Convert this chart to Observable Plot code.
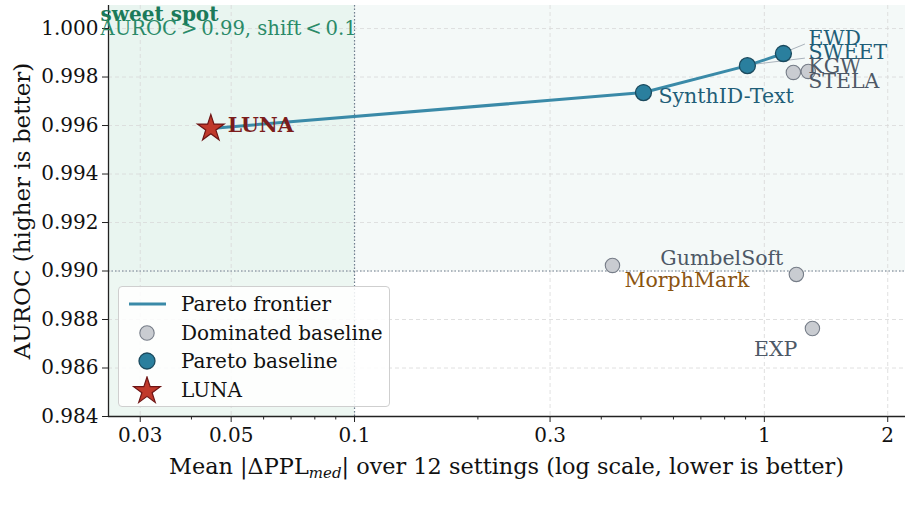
<!DOCTYPE html>
<html>
<head>
<meta charset="utf-8">
<script src="https://cdn.jsdelivr.net/npm/d3@7"></script>
<script src="https://cdn.jsdelivr.net/npm/@observablehq/plot@0.6"></script>
<style>
  html, body { margin: 0; padding: 0; background: #fff; }
  #wrap { position: relative; width: 913px; height: 510px; font-family: "DejaVu Serif", serif; }
  #legend { position: absolute; left: 118px; top: 286px; width: 272px; height: 121px;
    border: 1px solid #cfcfcf; border-radius: 4px; background: rgba(255,255,255,0.85);
    box-sizing: border-box; font-size: 20px; color: #111; }
  #legend .row { position: absolute; left: 0; height: 28px; display: flex; align-items: center; }
  #legend .row svg { width: 62px; height: 28px; }
</style>
</head>
<body>
<div id="wrap"></div>
<script>
// ---- data ----
const methods   = ["LUNA", "SynthID-Text", "SWEET", "EWD", "KGW", "STELA", "MorphMark", "GumbelSoft", "EXP"];
const pplShift  = [0.0446, 0.507, 0.909, 1.113, 1.177, 1.28, 0.426, 1.197, 1.31];
const auroc     = [0.99588, 0.99736, 0.99847, 0.99897, 0.99819, 0.99823, 0.99023, 0.98986, 0.98763];
const group     = ["luna", "pareto", "pareto", "pareto", "dominated", "dominated", "dominated", "dominated", "dominated"];
const frontier  = ["LUNA", "SynthID-Text", "SWEET", "EWD"];
const xMajor    = [0.03, 0.05, 0.1, 0.3, 1, 2];
const xMinor    = [0.04, 0.06, 0.07, 0.08, 0.09, 0.2, 0.4, 0.5, 0.6, 0.7, 0.8, 0.9];
const yTicks    = [0.984, 0.986, 0.988, 0.990, 0.992, 0.994, 0.996, 0.998, 1.000];
const sweetAuroc = 0.99;
const sweetShift = 0.1;

const rows = methods.map((m, i) => ({name: m, x: pplShift[i], y: auroc[i], g: group[i]}));
const frontierRows = frontier.map(n => rows.find(r => r.name === n));

// label styling (offsets in px, colours)
const labelStyle = {
  "LUNA":        {dx: 17, dy: -3, anchor: "start", fill: "#7b1c1c", weight: "bold"},
  "SynthID-Text":{dx: 15, dy: 4,  anchor: "start", fill: "#1f5e78"},
  "SWEET":       {dx: 61, dy: -13, anchor: "start", fill: "#1f5e78", leader: true},
  "EWD":         {dx: 25, dy: -15, anchor: "start", fill: "#1f5e78", leader: true},
  "KGW":         {dx: 15, dy: -6, anchor: "start", fill: "#4d5866", leader: true},
  "STELA":       {dx: 0,  dy: 10, anchor: "start", fill: "#4d5866"},
  "MorphMark":   {dx: 12, dy: 15, anchor: "start", fill: "#8a5410"},
  "GumbelSoft":  {dx: -13, dy: -16, anchor: "end", fill: "#4d5866"},
  "EXP":         {dx: -15, dy: 21, anchor: "end", fill: "#4d5866"}
};

const xDomain = [0.0251, 2.21];
const yDomain = [0.984, 1.00095];
const font = "DejaVu Serif";
const fs = 20;

const labelMarks = rows.map(r => {
  const s = labelStyle[r.name];
  return Plot.text([r], {x: "x", y: "y", text: "name", dx: s.dx, dy: s.dy, textAnchor: s.anchor,
    fill: s.fill, fontWeight: s.weight || "normal", fontSize: 20.5, fontFamily: font});
});

const gridDash = "4,3";
const chart = Plot.plot({
  width: 913,
  height: 510,
  marginLeft: 108,
  marginRight: 8,
  marginTop: 5,
  marginBottom: 94,
  style: {fontFamily: font, fontSize: fs + "px", color: "#111", background: "transparent", overflow: "visible"},
  x: {type: "log", domain: xDomain, label: null},
  y: {domain: yDomain, label: null},
  marks: [
    // sweet spot bands
    Plot.rect([{}], {x1: xDomain[0], x2: sweetShift, y1: yDomain[0], y2: sweetAuroc, fill: "#edf7f2"}),
    Plot.rect([{}], {x1: xDomain[0], x2: sweetShift, y1: sweetAuroc, y2: yDomain[1], fill: "#e9f5f0"}),
    Plot.rect([{}], {x1: sweetShift, x2: xDomain[1], y1: sweetAuroc, y2: yDomain[1], fill: "#f4f9f8"}),
    // grid
    Plot.ruleX(xMajor, {stroke: "#d8d8d8", strokeDasharray: gridDash, strokeWidth: 0.8}),
    Plot.ruleY(yTicks, {stroke: "#d8d8d8", strokeDasharray: gridDash, strokeWidth: 0.8}),
    // thresholds
    Plot.ruleX([sweetShift], {stroke: "#6e7f8f", strokeDasharray: "1.5,2", strokeWidth: 1.2}),
    Plot.ruleY([sweetAuroc], {stroke: "#6e7f8f", strokeDasharray: "1.5,2", strokeWidth: 1.2}),
    // axes
    Plot.axisX(xMinor, {tickSize: 3.5, text: null, stroke: "#222", label: null}),
    Plot.axisX(xMajor, {tickSize: 6, tickPadding: 5, tickFormat: d => String(d), stroke: "#222", fill: "#111", fontSize: fs,
      label: null}),
    Plot.axisY(yTicks, {tickSize: 6, tickPadding: 4, tickFormat: d3.format(".3f"), stroke: "#222", fill: "#111", fontSize: fs,
      label: null}),
    Plot.ruleX([xDomain[0]], {stroke: "#222", strokeWidth: 1.3}),
    Plot.ruleY([yDomain[0]], {stroke: "#222", strokeWidth: 1.3}),
    // frontier
    Plot.line(frontierRows, {x: "x", y: "y", stroke: "#3a8aa8", strokeWidth: 3}),
    // points
    Plot.dot(rows.filter(r => r.g === "dominated"), {x: "x", y: "y", r: 7.2, fill: "#c9ccd1", stroke: "#767d88", strokeWidth: 1.1}),
    Plot.dot(rows.filter(r => r.g === "pareto"), {x: "x", y: "y", r: 8, fill: "#2a7f9e", stroke: "#1b4a5e", strokeWidth: 1.3}),
    Plot.dot(rows.filter(r => r.g === "luna"), {x: "x", y: "y", r: 8.4, symbol: "star", fill: "#c0392b", stroke: "#6e1414", strokeWidth: 1.2}),
    ...labelMarks,
    // sweet spot annotation
    Plot.text(["sweet spot"], {frameAnchor: "top-left", dx: -8, dy: 1, fill: "#1b7a5a", fontWeight: "bold", fontSize: 20, fontFamily: font, textAnchor: "start"}),
    Plot.text(["AUROC\u2009>\u20090.99, shift\u2009<\u20090.1"], {frameAnchor: "top-left", dx: -8, dy: 16, fill: "#2a8a68", fontSize: 19.6, fontFamily: font, textAnchor: "start"})
  ]
});

const svg = d3.select(chart);
const xs = chart.scale("x"), ys = chart.scale("y");
// leader lines (drawn through the plot scales)
const leaderLayer = svg.insert("g", "g[aria-label='line']");
rows.forEach(r => {
  const s = labelStyle[r.name];
  if (!s.leader) return;
  const px = xs.apply(r.x), py = ys.apply(r.y);
  leaderLayer.append("line").attr("x1", px).attr("y1", py)
    .attr("x2", px + s.dx - 3).attr("y2", py + s.dy + 6)
    .attr("stroke", "#aab3bc").attr("stroke-width", 1);
});

// axis titles
svg.append("text").attr("x", (108 + 905) / 2).attr("y", 474).attr("text-anchor", "middle")
  .attr("font-family", font).attr("font-size", 22.4).attr("fill", "#111")
  .html('Mean |ΔPPL<tspan font-style="italic" font-size="15" dy="4">med</tspan><tspan dy="-4">| over 12 settings (log scale, lower is better)</tspan>');
svg.append("text").attr("transform", "translate(30,211) rotate(-90)").attr("text-anchor", "middle")
  .attr("font-family", font).attr("font-size", 23).attr("fill", "#111").text("AUROC (higher is better)");

const wrap = document.getElementById("wrap");
wrap.appendChild(chart);

// legend
const legend = document.createElement("div");
legend.id = "legend";
const items = [
  {label: "Pareto frontier", sym: '<line x1="10" x2="47" y1="14" y2="14" stroke="#3a8aa8" stroke-width="3"/>'},
  {label: "Dominated baseline", sym: '<circle cx="28" cy="14" r="7.2" fill="#c9ccd1" stroke="#767d88" stroke-width="1.1"/>'},
  {label: "Pareto baseline", sym: '<circle cx="28" cy="14" r="8" fill="#2a7f9e" stroke="#1b4a5e" stroke-width="1.3"/>'},
  {label: "LUNA", sym: null}
];
items.forEach((it, i) => {
  const row = document.createElement("div");
  row.className = "row";
  row.style.top = (3 + i * 28.7) + "px";
  let sym = it.sym;
  if (!sym) {
    const p = d3.symbol(d3.symbolStar, Math.PI * 8.4 * 8.4)();
    sym = `<path transform="translate(28,15)" d="${p}" fill="#c0392b" stroke="#6e1414" stroke-width="1.2"/>`;
  }
  row.innerHTML = `<svg>${sym}</svg><span>${it.label}</span>`;
  legend.appendChild(row);
});
wrap.appendChild(legend);
</script>
</body>
</html>
